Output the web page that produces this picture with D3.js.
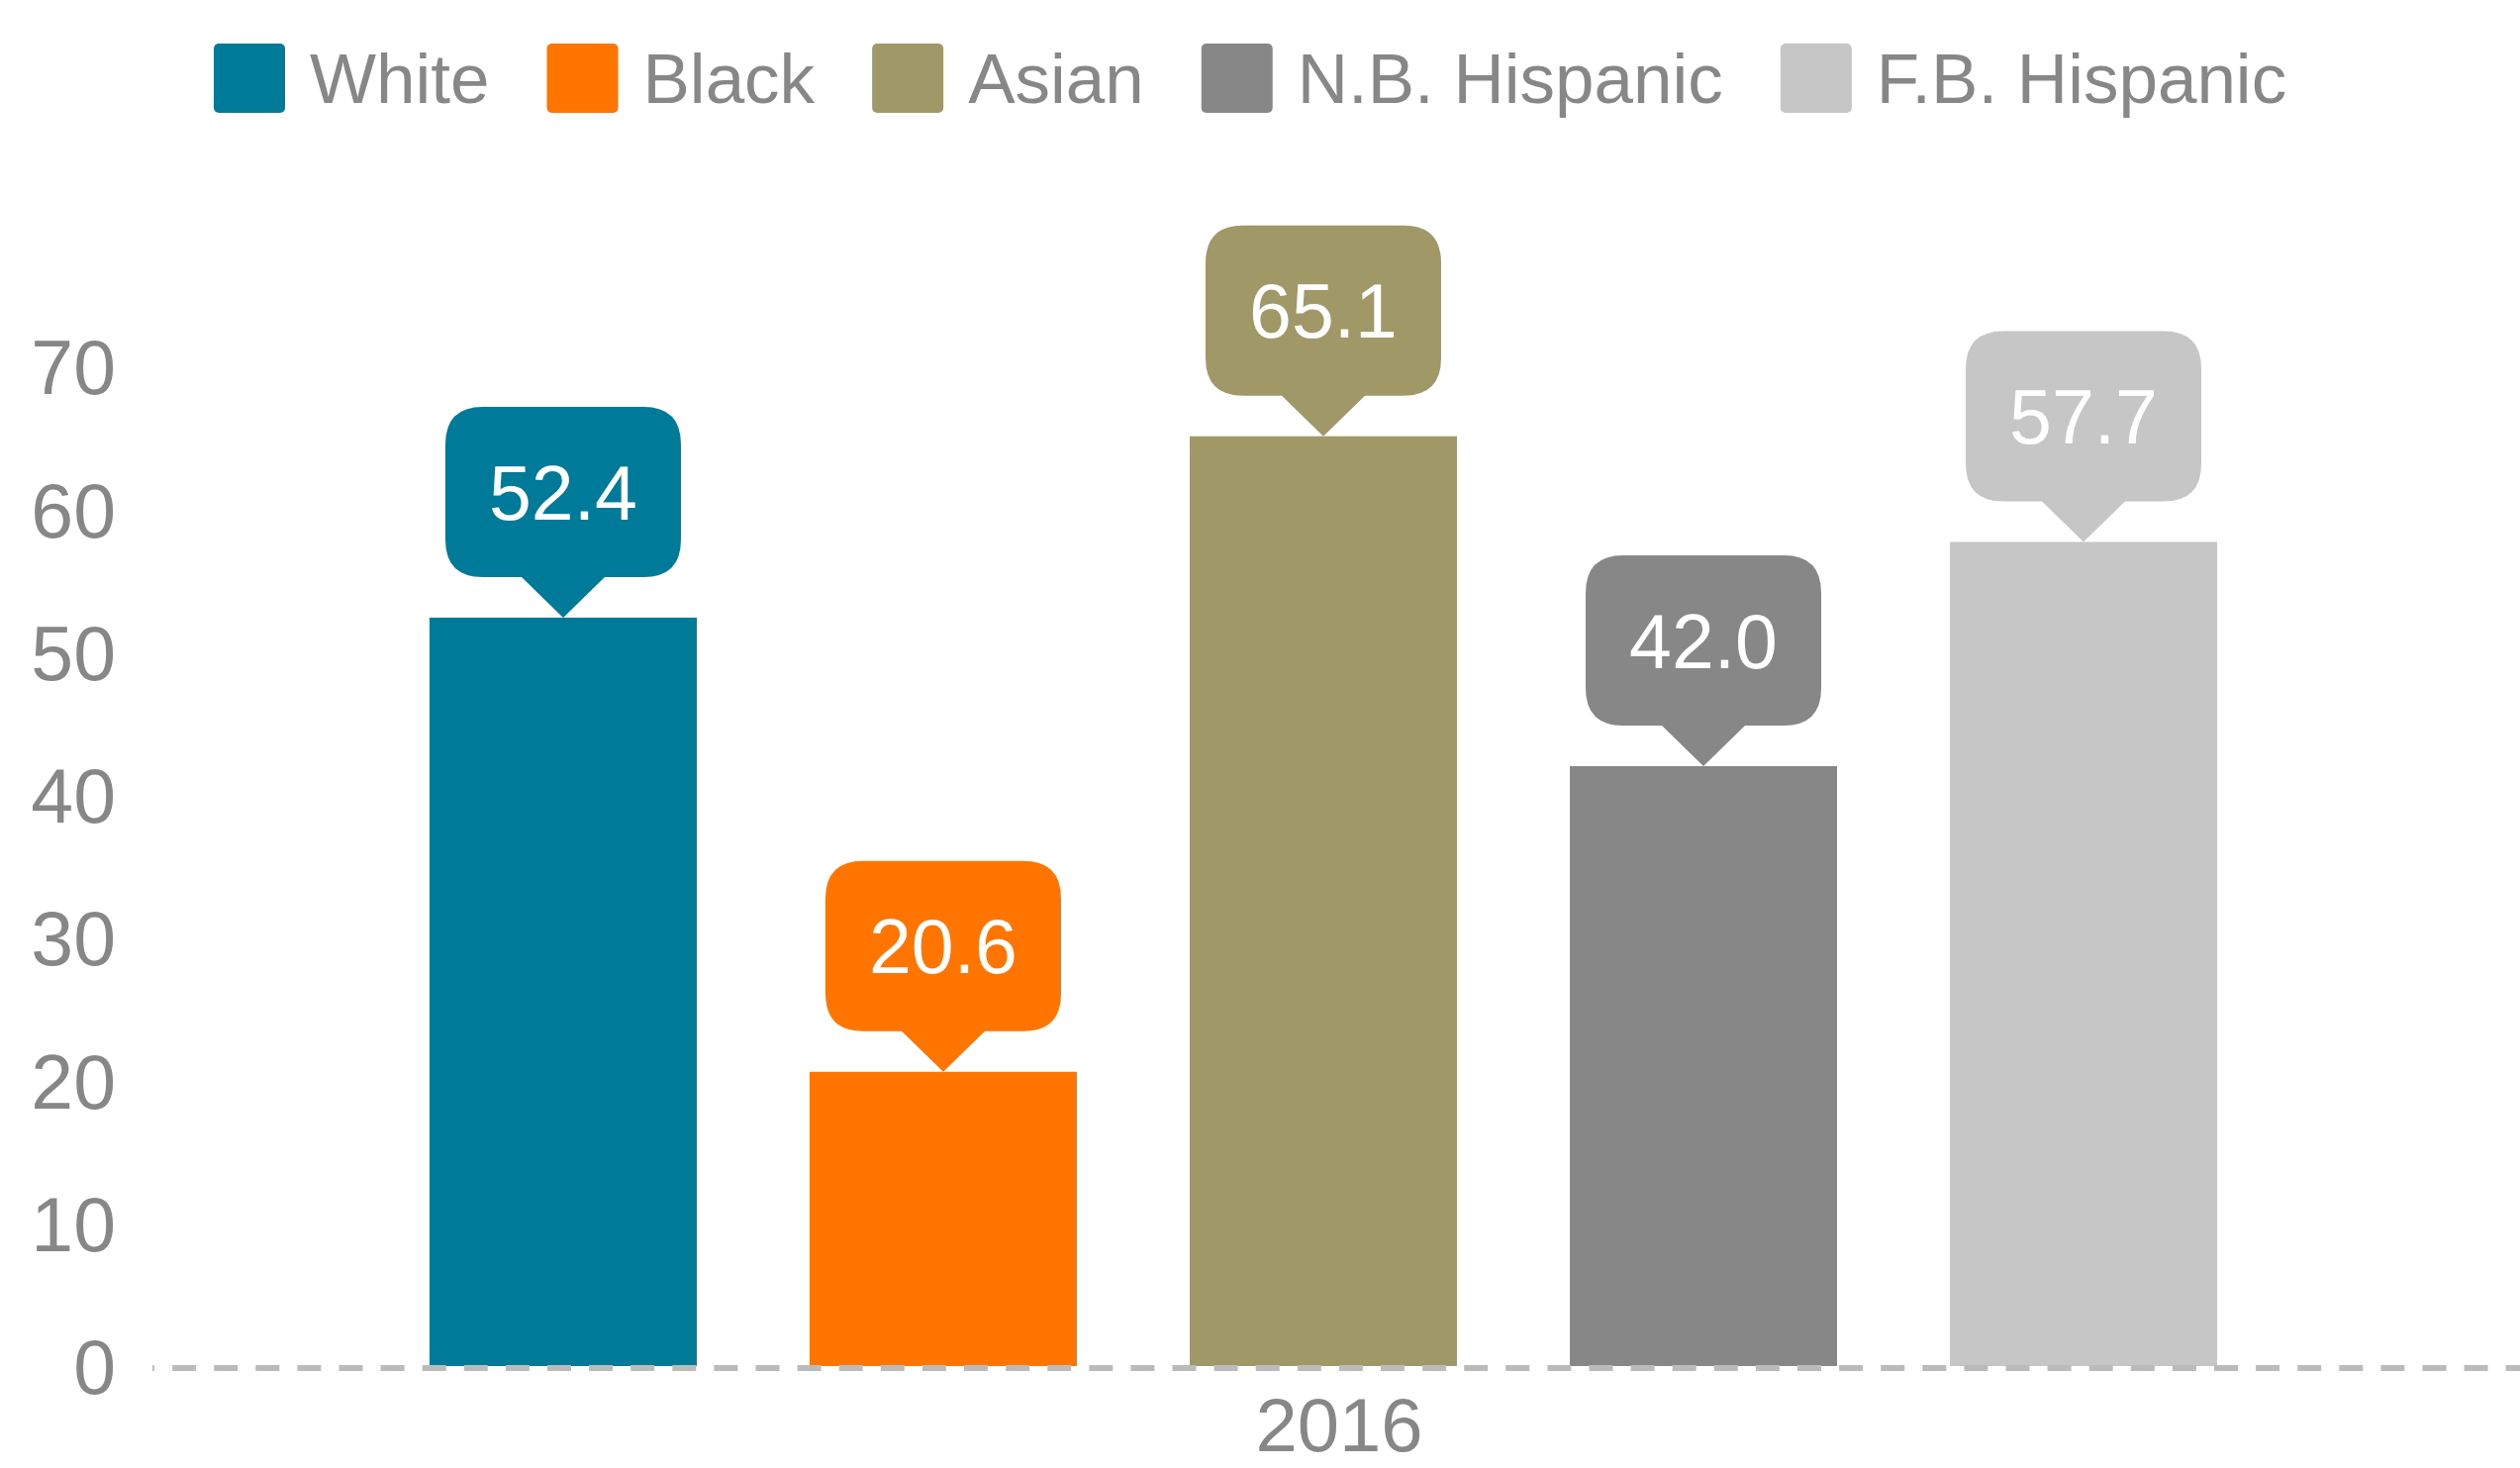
<!DOCTYPE html>
<html>
<head>
<meta charset="utf-8">
<script src="https://cdn.jsdelivr.net/npm/d3@7"></script>
<style>
  html, body { margin: 0; padding: 0; background: #fff; }
  svg { display: block; font-family: "Liberation Sans", Arial, sans-serif; }
</style>
</head>
<body>
<svg id="chart" width="2546" height="1483"></svg>
<script>
// ---- data ----
const categories = ["2016"];
const series = ["White", "Black", "Asian", "N.B. Hispanic", "F.B. Hispanic"];
const values = [52.4, 20.6, 65.1, 42.0, 57.7];
const colors = ["#007A99", "#FF7500", "#A19868", "#878787", "#C6C6C6"];
const yTicks = [0, 10, 20, 30, 40, 50, 60, 70];

// ---- layout ----
const W = 2546, H = 1483;
const svg = d3.select("#chart");
const textGrey = "#878787";

const y = d3.scaleLinear().domain([0, 70]).range([1380, 370]);
const x = d3.scaleBand().domain(series).range([434, 2240]).paddingInner(0.297).paddingOuter(0);
const cat = d3.scaleBand().domain(categories).range([160, W]);

// y axis labels
const yAxis = d3.axisLeft(y).tickValues(yTicks).tickSize(0).tickPadding(0).tickFormat(d3.format("d"));
const yg = svg.append("g").attr("transform", "translate(117,0)").call(yAxis);
yg.select(".domain").remove();
yg.selectAll("text").attr("fill", textGrey).style("font-size", "77px")
  .style("font-family", "'Liberation Sans', Arial, sans-serif").attr("dy", "0.36em");

// bars
svg.append("g").selectAll("rect").data(series).join("rect")
  .attr("x", d => x(d))
  .attr("width", x.bandwidth())
  .attr("y", (d, i) => y(values[i]))
  .attr("height", (d, i) => y(0) - y(values[i]))
  .attr("fill", (d, i) => colors[i]);

// baseline dashed
svg.append("line")
  .attr("x1", 154).attr("x2", W)
  .attr("y1", y(0) + 2).attr("y2", y(0) + 2)
  .attr("stroke", "#BBBBBB").attr("stroke-width", 6)
  .attr("stroke-dasharray", "24,18.1").attr("stroke-dashoffset", 22);

// x axis label
const xAxis = d3.axisBottom(cat).tickSize(0).tickPadding(0);
const xg = svg.append("g").attr("transform", "translate(0,1466)").call(xAxis);
xg.select(".domain").remove();
xg.selectAll("text").attr("fill", textGrey).style("font-size", "76px")
  .style("font-family", "'Liberation Sans', Arial, sans-serif").attr("y", 0).attr("dy", 0);

// callout bubbles
const bw = 238, bh = 172, ph = 41, pw = 42, r = 38;
function bubblePath(cx, tipY) {
  const bottom = tipY - ph, top = bottom - bh, l = cx - bw / 2, rt = cx + bw / 2;
  return `M${cx},${tipY} L${cx - pw},${bottom} L${l + r},${bottom} Q${l},${bottom} ${l},${bottom - r}` +
    ` L${l},${top + r} Q${l},${top} ${l + r},${top} L${rt - r},${top} Q${rt},${top} ${rt},${top + r}` +
    ` L${rt},${bottom - r} Q${rt},${bottom} ${rt - r},${bottom} L${cx + pw},${bottom} Z`;
}
const bub = svg.append("g").selectAll("g").data(series).join("g");
bub.append("path")
  .attr("d", (d, i) => bubblePath(x(d) + x.bandwidth() / 2, y(values[i])))
  .attr("fill", (d, i) => colors[i]);
bub.append("text")
  .attr("x", d => x(d) + x.bandwidth() / 2)
  .attr("y", (d, i) => y(values[i]) - ph - bh / 2 + 77 * 0.358)
  .attr("text-anchor", "middle")
  .attr("fill", "#fff")
  .style("font-size", "77px")
  .text((d, i) => d3.format(".1f")(values[i]));

// legend
const lg = svg.append("g");
let lx = 216;
series.forEach((s, i) => {
  const g = lg.append("g");
  g.append("rect").attr("x", lx).attr("y", 44).attr("width", 72).attr("height", 70)
    .attr("rx", 5).attr("fill", colors[i]);
  const t = g.append("text").attr("x", lx + 72 + 25).attr("y", 104)
    .attr("fill", textGrey).style("font-size", "71px").text(s);
  const tw = t.node().getComputedTextLength();
  lx = lx + 72 + 25 + tw + 58;
});
</script>
</body>
</html>
